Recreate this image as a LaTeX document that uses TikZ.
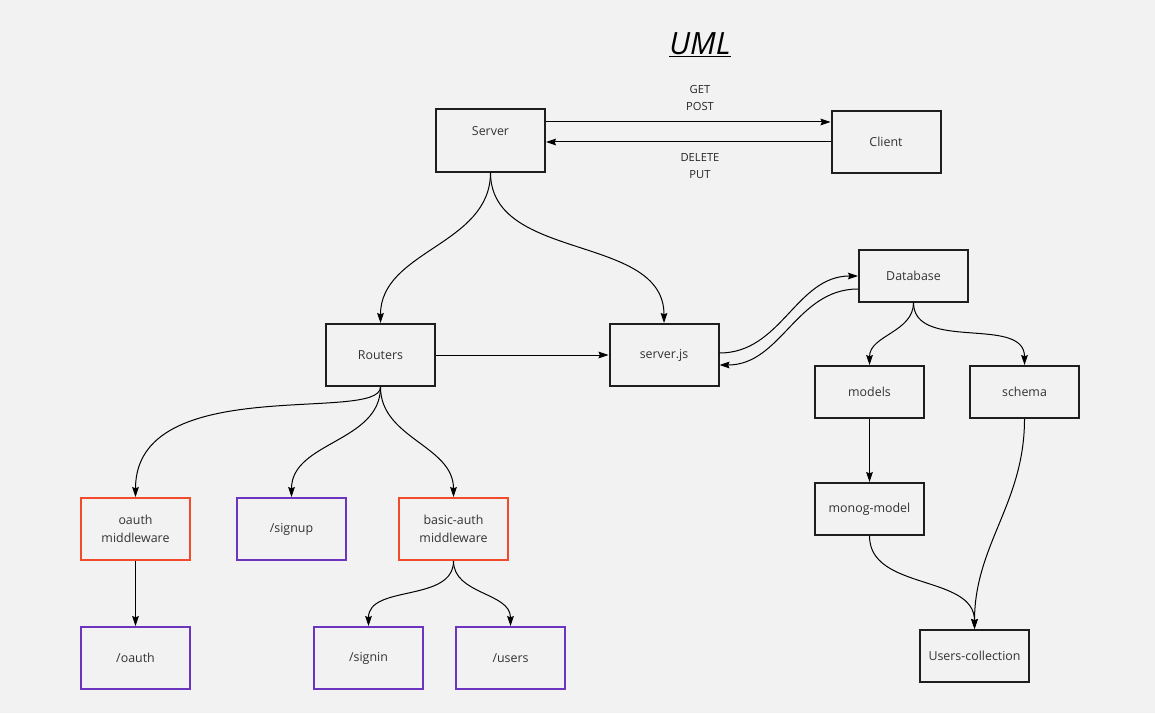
\documentclass[tikz,border=0pt]{standalone}
\usepackage{fontspec}
\setmainfont{Open Sans}
\usepackage{tikz}
\usetikzlibrary{arrows.meta, positioning}
\definecolor{bgcol}{HTML}{F2F2F2}
\definecolor{mwred}{HTML}{F24A2A}
\definecolor{mwpurple}{HTML}{6B35C0}
\definecolor{boxline}{HTML}{1E1E1E}
\tikzset{
    box/.style={rectangle, draw=boxline, line width=1.5pt, minimum width=81.75pt, minimum height=46.5pt, align=center, inner sep=0pt, font=\fontsize{9.3}{13}\selectfont, text=black!80},
    smallbox/.style={box, minimum height=39pt},
    redbox/.style={box, draw=mwred},
    purplebox/.style={box, draw=mwpurple},
    link/.style={draw=black, line width=0.75pt, -{Stealth[length=7.5pt, width=5pt, inset=1pt]}},
    verb/.style={font=\fontsize{8.4}{12.8}\selectfont, align=center, text=black!85},
}
\begin{document}
\begin{tikzpicture}[x=0.75pt, y=-0.75pt]
    \fill[bgcol] (0,0) rectangle (1155,713);
    \useasboundingbox (0,0) rectangle (1155,713);

    % title
    \node (title) at (700,45) {\fontsize{23}{28}\selectfont\itshape\underline{UML}};

    % top row
    \node[box] (server) at (490.5,140.5) {Server\\[1pt]\mbox{}};
    \node[box] (client) at (886,142) {Client};
    \node[verb] (getpost) at (700,98) {GET\\POST};
    \node[verb] (delput) at (700,166) {DELETE\\PUT};

    % middle row
    \node[box] (routers) at (380.5,355) {Routers};
    \node[box] (serverjs) at (664,355) {server.js};
    \node[smallbox] (database) at (913.5,275.5) {Database};
    \node[smallbox] (models) at (869.5,392) {models};
    \node[smallbox] (schema) at (1024.5,392) {schema};
    \node[smallbox] (monogmodel) at (869.5,509) {monog-model};
    \node[smallbox] (userscoll) at (974.5,656) {Users-collection};

    % routes
    \node[redbox] (oauthmw) at (135.5,529) {oauth\\middleware};
    \node[purplebox] (signup) at (291.5,529) {/signup};
    \node[redbox] (basicmw) at (453.5,529) {basic-auth\\middleware};
    \node[purplebox] (oauth) at (135.5,658) {/oauth};
    \node[purplebox] (signin) at (368.5,658) {/signin};
    \node[purplebox] (users) at (510.5,658) {/users};

    % server <-> client
    \draw[link] (server.east |- 0,122) -- (client.west |- 0,122);
    \draw[link] (client.west |- 0,142) -- (server.east |- 0,142);

    % server to routers and server.js
    \draw[link] (server.south) to[out=-90, in=90] (routers.north);
    \draw[link] (server.south) to[out=-90, in=90] (serverjs.north);
    \draw[link] (routers.east) -- (serverjs.west);

    % server.js <-> database
    \draw[link] (serverjs.east |- 0,353) to[out=0, in=180] (database.west |- 0,276);
    \draw[link] (database.west |- 0,289) to[out=180, in=0] (serverjs.east |- 0,365);

    % database side
    \draw[link] (database.south) to[out=-90, in=90] (models.north);
    \draw[link] (database.south) to[out=-90, in=90] (schema.north);
    \draw[link] (models.south) -- (monogmodel.north);
    \draw[link] (monogmodel.south) to[out=-90, in=90] (userscoll.north);
    \draw[link] (schema.south) to[out=-90, in=90] (userscoll.north);

    % routers side
    \draw[link] (routers.south) to[out=-90, in=90, out looseness=0.35, in looseness=1.2] (oauthmw.north);
    \draw[link] (routers.south) to[out=-90, in=90] (signup.north);
    \draw[link] (routers.south) to[out=-90, in=90] (basicmw.north);
    \draw[link] (oauthmw.south) -- (oauth.north);
    \draw[link] (basicmw.south) to[out=-90, in=90] (signin.north);
    \draw[link] (basicmw.south) to[out=-90, in=90] (users.north);
\end{tikzpicture}
\end{document}
